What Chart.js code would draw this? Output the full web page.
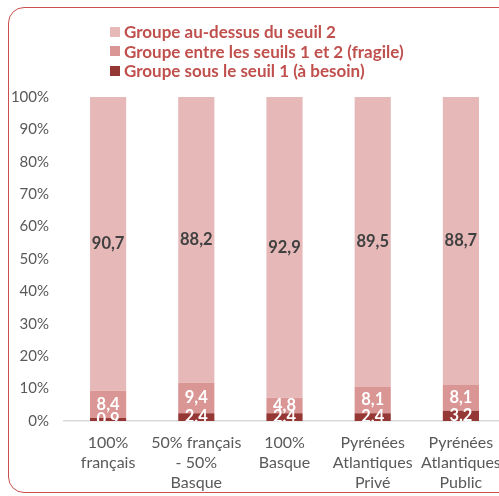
<!DOCTYPE html>
<html>
<head>
<meta charset="utf-8">
<script src="https://cdn.jsdelivr.net/npm/chart.js@4"></script>
<style>
  html, body { margin: 0; padding: 0; background: #fff; overflow: hidden; }
  #wrap { position: relative; width: 499px; height: 496px; overflow: hidden; }
  #frame {
    position: absolute; left: 8px; top: 7px; width: 510px; height: 486px;
    border: 1.5px solid #C9504D; border-radius: 16px; box-sizing: border-box;
  }
  #myChart { position: absolute; left: 0; top: 0; }
  #legend { position: absolute; left: 110px; top: 22px; font-family: Lato, "Open Sans", sans-serif; }
  .leg-item { display: flex; align-items: center; height: 19.5px; font-size: 17px; font-weight: bold; color: #C0504D; }
  .leg-box { width: 10px; height: 10px; margin-right: 4px; }
</style>
</head>
<body>
<div id="wrap">
  <div id="frame"></div>
  <canvas id="myChart" width="520" height="496" style="width:520px;height:496px"></canvas>
  <div id="legend"></div>
</div>
<script>
// data
const categories = [
  ["100%", "français"],
  ["50% français", "- 50%", "Basque"],
  ["100%", "Basque"],
  ["Pyrénées", "Atlantiques", "Privé"],
  ["Pyrénées", "Atlantiques", "Public"]
];
const besoin = [0.9, 2.4, 2.4, 2.4, 3.2];
const fragile = [8.4, 9.4, 4.8, 8.1, 8.1];
const auDessus = [90.7, 88.2, 92.9, 89.5, 88.7];
const seriesNames = [
  "Groupe au-dessus du seuil 2",
  "Groupe entre les seuils 1 et 2 (fragile)",
  "Groupe sous le seuil 1 (à besoin)"
];
const yTicks = [0, 10, 20, 30, 40, 50, 60, 70, 80, 90, 100];

const colors = ["#E6B9B8", "#D99694", "#953735"];
const labelColors = ["#404040", "#ffffff", "#ffffff"];

// value labels inside the segments
const segmentLabels = {
  id: "segmentLabels",
  afterDatasetsDraw(chart) {
    const ctx = chart.ctx;
    const area = chart.chartArea;
    ctx.save();
    ctx.beginPath();
    ctx.rect(area.left, area.top, area.right - area.left, area.bottom - area.top);
    ctx.clip();
    ctx.font = "bold 16.5px Lato, 'Open Sans', sans-serif";
    ctx.textAlign = "center";
    ctx.textBaseline = "middle";
    chart.data.datasets.forEach((ds, i) => {
      const meta = chart.getDatasetMeta(i);
      meta.data.forEach((bar, j) => {
        const v = ds.data[j];
        const yc = (bar.y + bar.base) / 2;
        ctx.fillStyle = ds.labelColor;
        ctx.fillText(v.toFixed(1).replace(".", ","), bar.x, yc);
      });
    });
    ctx.restore();
  }
};

const ctx = document.getElementById("myChart").getContext("2d");
const myChart = new Chart(ctx, {
  type: "bar",
  data: {
    labels: categories,
    datasets: [
      { label: seriesNames[2], data: besoin, backgroundColor: colors[2], labelColor: labelColors[2] },
      { label: seriesNames[1], data: fragile, backgroundColor: colors[1], labelColor: labelColors[1] },
      { label: seriesNames[0], data: auDessus, backgroundColor: colors[0], labelColor: labelColors[0] }
    ]
  },
  options: {
    responsive: false,
    animation: false,
    layout: { padding: { top: 97, right: 15, left: 0, bottom: 0 } },
    datasets: { bar: { categoryPercentage: 1, barPercentage: 0.41 } },
    plugins: {
      legend: { display: false },
      tooltip: { enabled: false }
    },
    scales: {
      x: {
        stacked: true,
        grid: { display: false, drawTicks: false },
        border: { color: "#D9D9D9", width: 1.5 },
        ticks: {
          color: "#595959",
          font: { family: "Lato, 'Open Sans', sans-serif", size: 16, lineHeight: 1.25 },
          padding: 12,
          maxRotation: 0,
          autoSkip: false
        },
        afterFit: (s) => { s.height = 75; }
      },
      y: {
        stacked: true,
        min: 0,
        max: 100,
        grid: { display: false, drawTicks: false },
        border: { display: false },
        afterBuildTicks: (s) => { s.ticks = yTicks.map((v) => ({ value: v })); },
        ticks: {
          color: "#595959",
          font: { family: "Lato, 'Open Sans', sans-serif", size: 15 },
          padding: 15,
          callback: (v) => v + "%"
        },
        afterFit: (s) => { s.width = 64; }
      }
    }
  },
  plugins: [segmentLabels]
});

// legend in html, one entry per line
const legend = document.getElementById("legend");
[0, 1, 2].forEach((i) => {
  const item = document.createElement("div");
  item.className = "leg-item";
  item.innerHTML = '<span class="leg-box" style="background:' + colors[i] + '"></span>' + seriesNames[i];
  legend.appendChild(item);
});
</script>
</body>
</html>
